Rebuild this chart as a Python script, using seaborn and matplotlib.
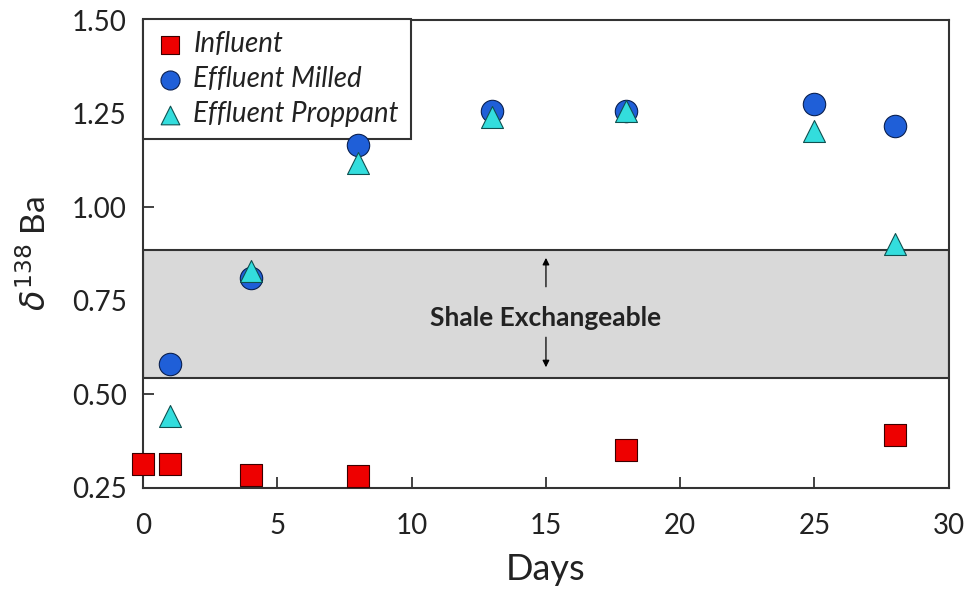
import matplotlib
matplotlib.use("Agg")
import matplotlib.pyplot as plt
import seaborn as sns
import pandas as pd

influent_days = [0, 1, 4, 8, 18, 28]
influent_vals = [0.315, 0.315, 0.285, 0.283, 0.352, 0.392]

milled_days = [1, 4, 8, 13, 18, 25, 28]
milled_vals = [0.58, 0.812, 1.166, 1.257, 1.257, 1.276, 1.217]

proppant_days = [1, 4, 8, 13, 18, 25, 28]
proppant_vals = [0.442, 0.83, 1.118, 1.242, 1.258, 1.204, 0.902]

band_low, band_high = 0.545, 0.885
band_label = "Shale Exchangeable"

x_ticks = [0, 5, 10, 15, 20, 25, 30]
y_ticks = [0.25, 0.50, 0.75, 1.00, 1.25, 1.50]

sns.set_theme(style="white")
plt.rcParams['font.family'] = ['Lato', 'DejaVu Sans']
plt.rcParams['mathtext.fontset'] = 'dejavusans'

fig = plt.figure(figsize=(9.68, 5.9), dpi=100)
ax = fig.add_axes([0.148, 0.173, 0.832, 0.793])

ax.axhspan(band_low, band_high, facecolor='#d9d9d9', edgecolor='#333333', linewidth=1.5, zorder=1)

df_inf = pd.DataFrame({"Days": influent_days, "val": influent_vals})
df_mil = pd.DataFrame({"Days": milled_days, "val": milled_vals})
df_pro = pd.DataFrame({"Days": proppant_days, "val": proppant_vals})

sns.scatterplot(data=df_inf, x="Days", y="val", marker='s', s=240, color='#ee0000',
                edgecolor='#3a0000', linewidth=0.8, label='Influent', ax=ax, zorder=3, clip_on=False)
sns.scatterplot(data=df_mil, x="Days", y="val", marker='o', s=260, color='#1f5fd8',
                edgecolor='#0a2050', linewidth=0.8, label='Effluent Milled', ax=ax, zorder=3, clip_on=False)
sns.scatterplot(data=df_pro, x="Days", y="val", marker='^', s=250, color='#33dddd',
                edgecolor='#105050', linewidth=0.8, label='Effluent Proppant', ax=ax, zorder=4, clip_on=False)

mid = (band_low + band_high) / 2
ax.text(15, mid - 0.01, band_label, ha='center', va='center', fontsize=19, fontweight='bold',
        color='#222222', zorder=5)
ax.annotate('', xy=(15, 0.872), xytext=(15, 0.78),
            arrowprops=dict(arrowstyle='-|>', color='black', lw=0.9, mutation_scale=10), zorder=5)
ax.annotate('', xy=(15, 0.565), xytext=(15, 0.66),
            arrowprops=dict(arrowstyle='-|>', color='black', lw=0.9, mutation_scale=10), zorder=5)

ax.set_xlim(0, 30)
ax.set_ylim(0.25, 1.50)
ax.set_xticks(x_ticks)
ax.set_yticks(y_ticks)
ax.set_yticklabels([f"{v:.2f}" for v in y_ticks])
ax.tick_params(direction='in', length=8, width=1.2, labelsize=20, colors='#222222',
               bottom=True, left=True)
ax.tick_params(axis='x', pad=18)
ax.tick_params(axis='y', pad=12)
for sp in ax.spines.values():
    sp.set_color('#333333')
    sp.set_linewidth(1.5)

ax.set_xlabel('Days', fontsize=26, color='#222222', labelpad=10)
ax.set_ylabel(r'$\delta^{138}$ Ba', fontsize=24, color='#222222', labelpad=14)

leg = ax.legend(loc='upper left', bbox_to_anchor=(0, 1.003), borderaxespad=0, frameon=True,
                fancybox=False, edgecolor='#333333', fontsize=20, handletextpad=0.35,
                borderpad=0.45, labelspacing=0.32, handlelength=1.0, markerscale=0.85,
                framealpha=1.0)
leg.get_frame().set_linewidth(1.5)
leg.set_zorder(2.5)
for t in leg.get_texts():
    t.set_fontstyle('italic')
    t.set_color('#222222')

fig.savefig('out.png', dpi=100)
